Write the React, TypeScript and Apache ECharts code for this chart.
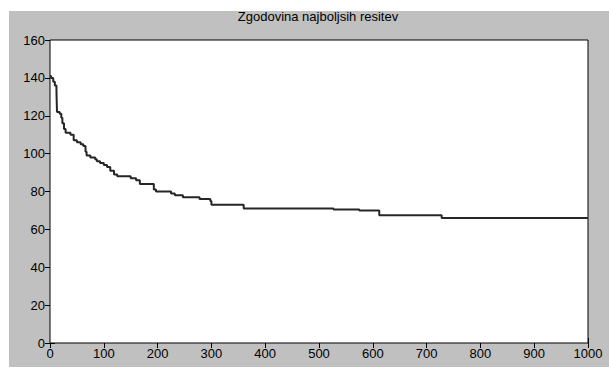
import React, { useEffect, useRef } from "react";
import * as echarts from "echarts";

const titleText = "Zgodovina najboljsih resitev";
const iterations = [0, 2, 6, 9, 12, 13, 18, 21, 23, 26, 29, 38, 44, 50, 57, 62, 66, 68, 75, 84, 87, 93, 100, 106, 112, 119, 125, 150, 160, 167, 193, 197, 225, 232, 247, 278, 298, 300, 360, 527, 575, 612, 728, 1000];
const bestValues = [141, 140, 138, 136, 133, 122, 121, 119, 116, 113, 111, 110, 107, 106, 105, 104, 101, 99, 98, 97, 96, 95, 94, 93, 91, 89, 88, 87, 86, 84, 81, 80, 79, 78, 77, 76, 75, 73, 71, 70.5, 70, 67.5, 66, 66];
const xTicks = { min: 0, max: 1000, interval: 100 };
const yTicks = { min: 0, max: 160, interval: 20 };

export default function App() {
  const ref = useRef<HTMLDivElement>(null);
  useEffect(() => {
    document.body.style.margin = "0";
    const chart = echarts.init(ref.current!, null, { renderer: "svg" });
    const font = "'Liberation Sans', Arial, Helvetica, sans-serif";
    const tick = { show: true, inside: true, length: 5, lineStyle: { color: "#000" } };
    const hiddenAxis = {
      axisLabel: { show: false },
      splitLine: { show: false },
      axisLine: { show: false },
      axisTick: tick,
    };
    chart.setOption({
      animation: false,
      backgroundColor: "#ffffff",
      grid: {
        left: 50,
        top: 40,
        right: 21,
        bottom: 26,
        show: true,
        backgroundColor: "#ffffff",
        borderColor: "#000",
        borderWidth: 1,
        z: 1,
      },
      graphic: [
        {
          type: "rect",
          shape: { x: 9, y: 11, width: 600, height: 356 },
          style: { fill: "#c0c0c0" },
          z: -10,
          silent: true,
        },
        {
          type: "text",
          x: 318,
          y: 16,
          style: {
            text: titleText,
            fill: "#000",
            font: `13px ${font}`,
            textAlign: "center",
            textVerticalAlign: "middle",
          },
          z: 10,
        },
      ],
      xAxis: [
        {
          type: "value",
          ...xTicks,
          position: "bottom",
          axisLine: { show: false },
          axisTick: tick,
          splitLine: { show: false },
          axisLabel: { color: "#000", fontSize: 13, fontFamily: font, margin: 4, formatter: (v: number) => String(v) },
        },
        { type: "value", ...xTicks, position: "top", ...hiddenAxis },
      ],
      yAxis: [
        {
          type: "value",
          ...yTicks,
          position: "left",
          axisLine: { show: false },
          axisTick: tick,
          splitLine: { show: false },
          axisLabel: { color: "#000", fontSize: 13, fontFamily: font, margin: 5, formatter: (v: number) => String(v) },
        },
        { type: "value", ...yTicks, position: "right", ...hiddenAxis },
      ],
      series: [
        {
          type: "line",
          step: "end",
          showSymbol: false,
          data: iterations.map((it, i) => [it, bestValues[i]]),
          lineStyle: { color: "#262626", width: 2 },
        },
      ],
    });
    return () => chart.dispose();
  }, []);
  return <div ref={ref} style={{ width: 609, height: 369 }} />;
}
